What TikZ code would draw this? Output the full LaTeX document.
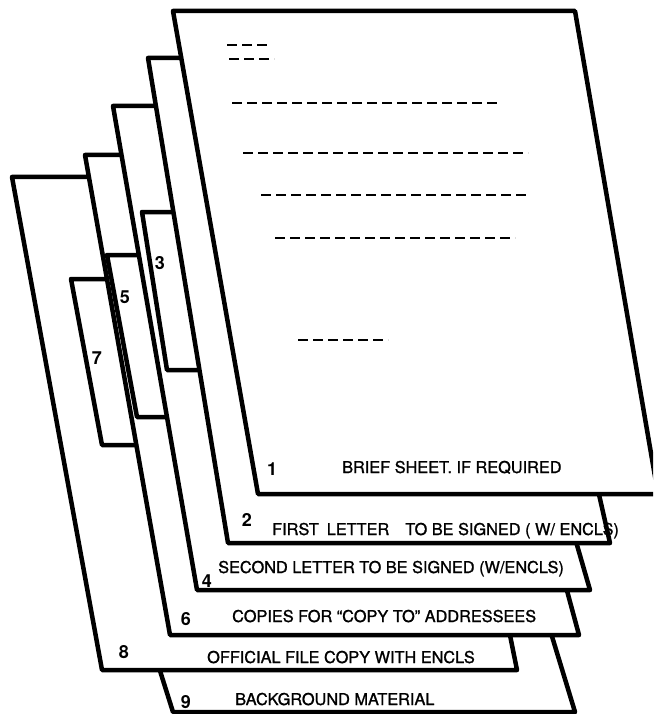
\documentclass[tikz,border=0pt]{standalone}
\usepackage{fontspec}
\setmainfont{TeX Gyre Heros}
\newfontfamily\heavyfont[FakeBold=1.2]{TeX Gyre Heros}
\tikzset{
	sheet/.style={draw, fill=white, line width=4.5pt, line join=round},
	textline/.style={line width=2.8pt, dash pattern=on 10pt off 5pt},
	num/.style={font=\fontsize{18}{20}\selectfont\bfseries, anchor=base, inner sep=0pt},
	caption/.style={font=\heavyfont\fontsize{16.3}{18}\selectfont, anchor=base west, inner sep=0pt}
}
\begin{document}
\begin{tikzpicture}[x=1pt, y=-1pt]
	\useasboundingbox (0,0) rectangle (653,714);
	\clip (0,0) rectangle (653,714);
	% sheets, back to front
	\draw[sheet] (144,620) -- (547,620) -- (575,712) -- (173,712) -- cycle;
	\draw[sheet] (12,177) -- (418,177) -- (517,670) -- (102,670) -- cycle;
	\draw[sheet] (71,279) -- (130,279) -- (160,445) -- (102,445) -- cycle;
	\draw[sheet] (85,155) -- (449,155) -- (579,635) -- (170,635) -- cycle;
	\draw[sheet] (107,255) -- (160,255) -- (190,417) -- (137,417) -- cycle;
	\draw[sheet] (113,106) -- (450,106) -- (590,590) -- (197,590) -- cycle;
	\draw[sheet] (142,212) -- (195,212) -- (220,370) -- (167,370) -- cycle;
	\draw[sheet] (148,58) -- (500,58) -- (610,543) -- (228,543) -- cycle;
	\draw[sheet] (173,11) -- (575,11) -- (658,494) -- (258,494) -- cycle;
	% lines of the letter
	\draw[textline] (227,45) -- (272,45);
	\draw[textline] (229,59) -- (274,59);
	\draw[textline] (232,103) -- (497,103);
	\draw[textline] (243,153) -- (528,153);
	\draw[textline] (261,195) -- (526,195);
	\draw[textline] (275,238) -- (515,238);
	\draw[textline] (298,340) -- (388,340);
	% numbers
	\node[num] (n1) at (272,475) {1};
	\node[num] (n2) at (247,526) {2};
	\node[num] (n3) at (160,269) {3};
	\node[num] (n4) at (207,587) {4};
	\node[num] (n5) at (125,303) {5};
	\node[num] (n6) at (186,625) {6};
	\node[num] (n7) at (97,364) {7};
	\node[num] (n8) at (124,658) {8};
	\node[num] (n9) at (186,708) {9};
	% captions
	\node[caption] (t1) at (342,473) {BRIEF SHEET. IF REQUIRED};
	\node[caption] (t2) at (272,535) {FIRST\hspace{8pt}LETTER\hspace{16pt}TO BE SIGNED ( W/ ENCLS)};
	\node[caption] (t4) at (218,573) {SECOND LETTER TO BE SIGNED (W/ENCLS)};
	\node[caption] (t6) at (232,622) {COPIES FOR “COPY TO” ADDRESSEES};
	\node[caption] (t8) at (207,663) {OFFICIAL FILE COPY WITH ENCLS};
	\node[caption] (t9) at (235,705) {BACKGROUND MATERIAL};
\end{tikzpicture}
\end{document}
